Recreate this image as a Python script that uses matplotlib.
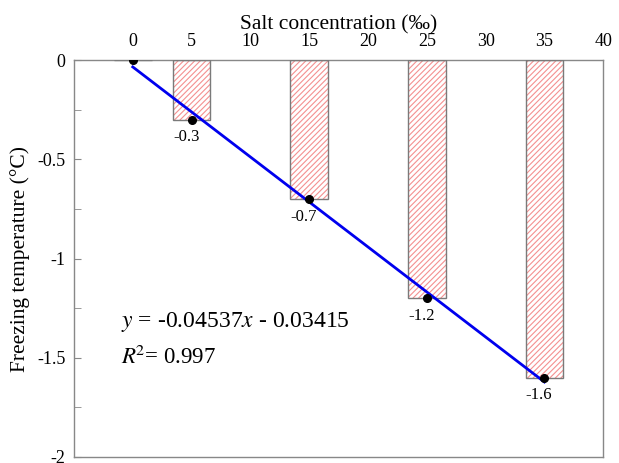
import numpy as np
import matplotlib.pyplot as plt
from matplotlib.ticker import MultipleLocator

plt.rcParams['font.family'] = ['Liberation Serif', 'DejaVu Serif']
plt.rcParams['mathtext.fontset'] = 'stix'
plt.rcParams['hatch.linewidth'] = 0.8

# data
salt = [0, 5, 15, 25, 35]
freeze = [0.0, -0.3, -0.7, -1.2, -1.6]
labels = ['', '-0.3', '-0.7', '-1.2', '-1.6']
fit_x = [0, 35]
fit_y = [-0.034, -1.622]
xticks = [0, 5, 10, 15, 20, 25, 30, 35, 40]

fig = plt.figure(figsize=(6.19, 4.63), dpi=100)
ax = fig.add_axes([0.1195, 0.013, 0.855, 0.857])

# hatch layer, then gray outline
ax.bar(salt, freeze, width=3.2, facecolor='white', edgecolor='#f49090',
       hatch='//////', linewidth=0, zorder=2)
ax.bar(salt, freeze, width=3.2, facecolor='none', edgecolor='#7a7a7a',
       linewidth=1.0, zorder=3)

ax.plot(fit_x, fit_y, color='#0000ee', lw=2, zorder=4)
ax.plot(salt, freeze, 'o', color='black', ms=5.5, zorder=5)

for x, y, t in zip(salt, freeze, labels):
    if t:
        ax.text(x - 0.45, y - 0.088, t, ha='center', va='center', fontsize=12)

ax.text(-1.0, -1.32, r'$y$ = -0.04537$x$ - 0.03415', fontsize=17, va='center')
ax.text(-1.0, -1.496, r'$R$$^2$= 0.997', fontsize=16.5, va='center')

ax.set_xlim(-5, 40)
ax.set_ylim(-2, 0)
ax.xaxis.tick_top()
ax.xaxis.set_label_position('top')
ax.set_xticks(xticks)
ax.tick_params(axis='x', length=0, labelsize=13, pad=7)
ax.yaxis.set_minor_locator(MultipleLocator(0.25))
ax.set_yticks([0, -0.5, -1, -1.5, -2])
ax.set_yticklabels(['0', '-0.5', '-1', '-1.5', '-2'])
ax.tick_params(axis='y', which='both', direction='in', labelsize=13,
               color='#888888', left=True, right=False, length=5, pad=6)
ax.set_xlabel('Salt concentration (‰)', fontsize=15.5, labelpad=3)
ax.set_ylabel('Freezing temperature (°C)', fontsize=15.5, labelpad=5)
for s in ax.spines.values():
    s.set_color('#888888')
    s.set_linewidth(1.0)

fig.savefig('out.png', dpi=100)
